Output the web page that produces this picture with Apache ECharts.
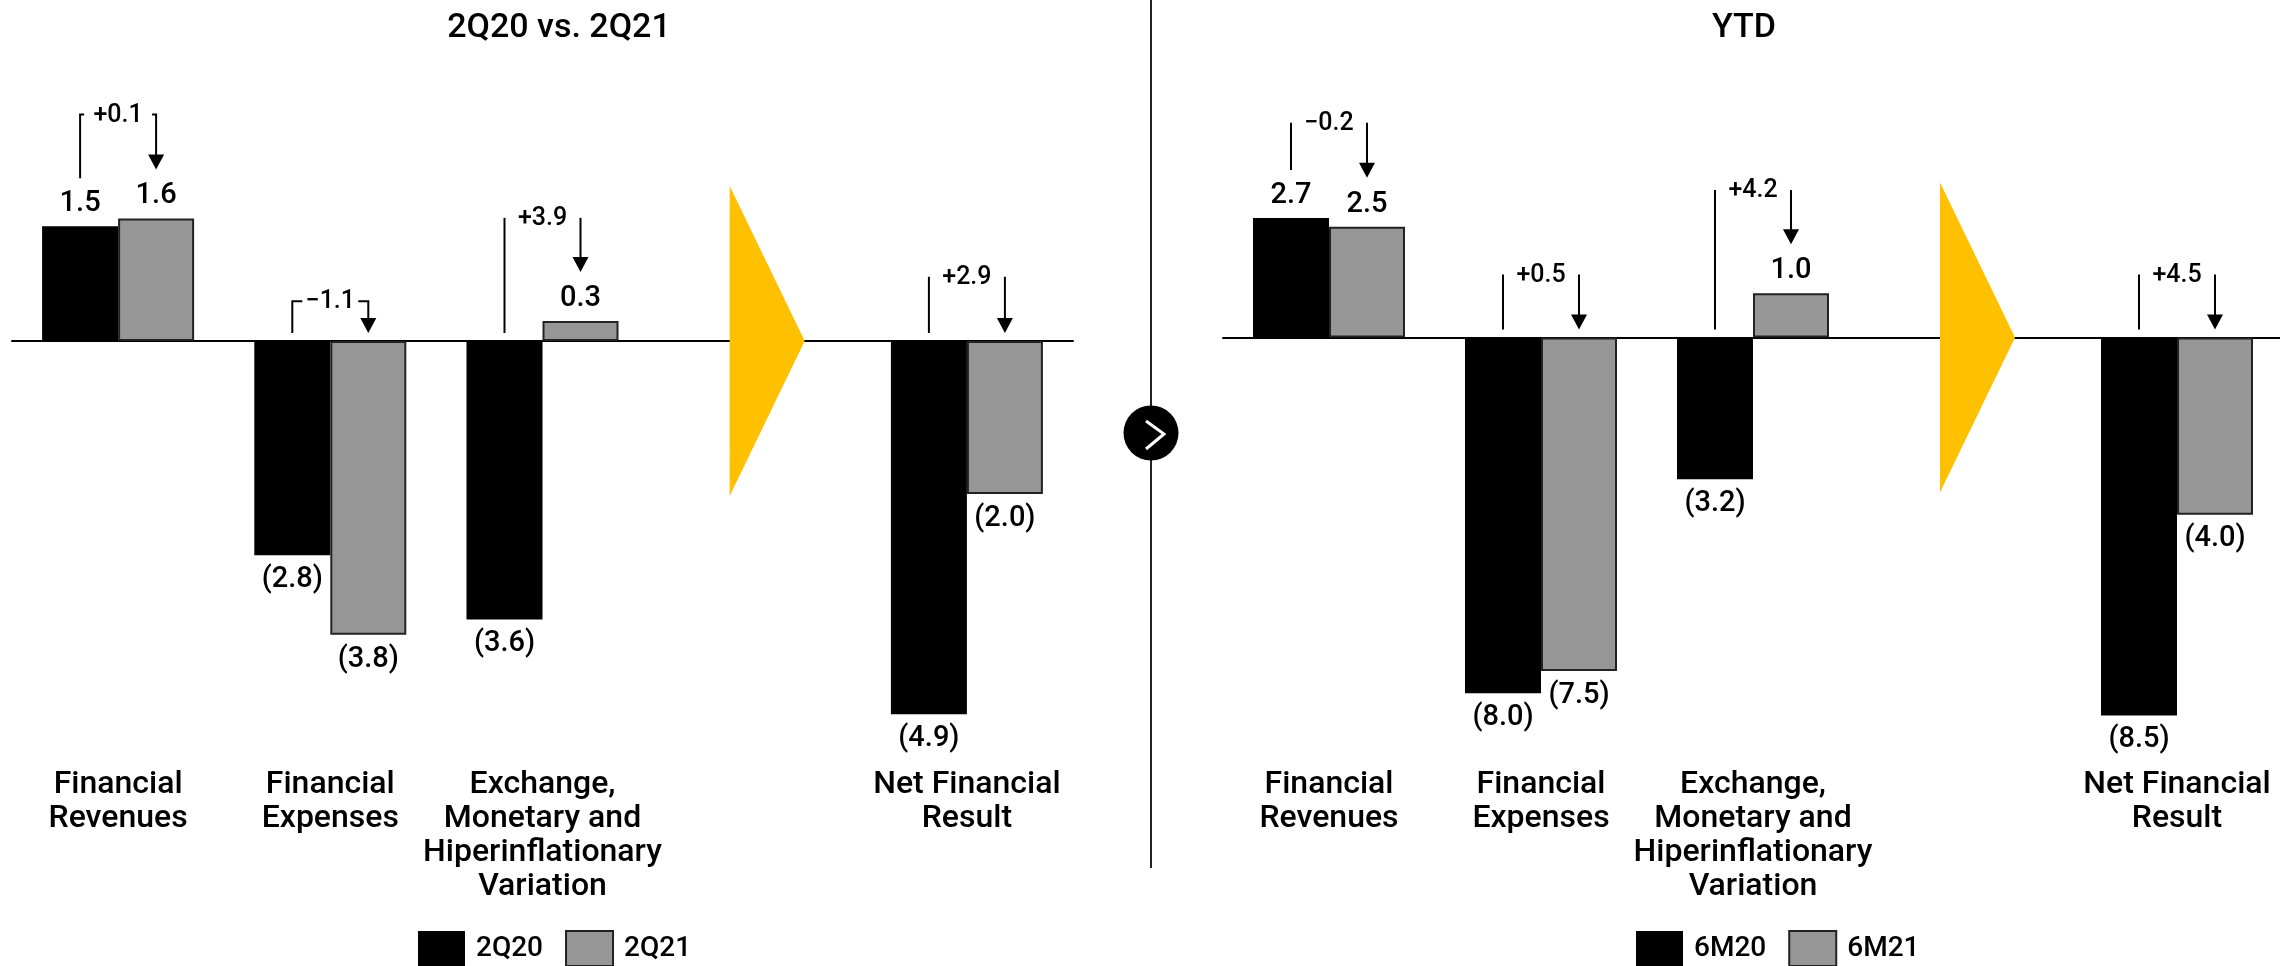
<!DOCTYPE html>
<html><head><meta charset="utf-8">
<style>html,body{margin:0;padding:0;background:#fff}#c{width:2280px;height:966px}</style>
<script src="https://cdn.jsdelivr.net/npm/echarts@6/dist/echarts.min.js"></script>
</head><body><div id="c"></div>
<script>
const categories = ['Financial\nRevenues','Financial\nExpenses','Exchange,\nMonetary and\nHiperinflationary\nVariation','','Net Financial\nResult'];
const q2_20 = [1.5,-2.8,-3.64,null,-4.88];
const q2_21 = [1.6,-3.84,0.26,null,-2.0];
const m6_20 = [2.7,-8.03,-3.2,null,-8.53];
const m6_21 = [2.5,-7.53,1.0,null,-4.0];
const deltaLeft = ['+0.1','−1.1','+3.9',null,'+2.9'];
const deltaRight = ['−0.2','+0.5','+4.2',null,'+4.5'];
// bracket top, in axis units above the zero line
const bracketTopLeft = [2.96,0.52,1.61,null,0.84];
const bracketTopRight = [4.85,1.42,3.33,null,1.42];
const stubLeft = [4,10,0,0,0];
const stubRight = [0,0,0,0,0];

const FONT = 'Roboto';
const fmt = p => { const v = p.value; return v == null ? '' : v < 0 ? '(' + (-v).toFixed(1) + ')' : v.toFixed(1); };
const GOLD = '#FFC000', GREY = '#969696';

function barSeries(name, data, color, idx, border) {
  return {
    type:'bar', name, data, xAxisIndex:idx*2, yAxisIndex:idx, barWidth:76, barGap:'0%', z:3,
    itemStyle:{color, borderColor: border, borderWidth: border==='#000'?0:2},
    label:{show:true, formatter:fmt, color:'#000', fontFamily:FONT, fontWeight:500, fontSize:29, distance:8,
      position:'top'}
  };
}
function negLabels(arr){ return arr.map(v => v==null ? null : v<0 ? {value:v,label:{position:'bottom',distance:10}} : v); }

function annotSeries(idx, v1, v2, tops, deltas, stubs) {
  const data = categories.map((c,i)=>[i]);
  return {
    type:'custom', xAxisIndex:idx*2, yAxisIndex:idx, z:5, silent:true, data, encode:{x:0},
    clip:false,
    renderItem(params, api){
      const i = api.value(0);
      const base = api.coord([i,0]);
      const cx = base[0], y0 = base[1];
      if (deltas[i] == null) {
        return {type:'polygon', z2:10, shape:{points:[[cx-25,y0-155],[cx+50,y0],[cx-25,y0+155]]}, style:{fill:GOLD}};
      }
      const xl = cx-38, xr = cx+38;
      const top = api.coord([i,tops[i]])[1];
      const lb = v1[i]>0 ? api.coord([i,v1[i]])[1]-48 : y0-8;
      const rb = v2[i]>0 ? api.coord([i,v2[i]])[1]-49 : y0-8;
      const ls = {stroke:'#000', lineWidth:2, fill:null};
      const s = stubs[i];
      return {type:'group', children:[
        {type:'polyline', shape:{points:[[xl+s,top],[xl,top],[xl,lb]]}, style:ls},
        {type:'polyline', shape:{points:[[xr-s,top],[xr,top],[xr,rb-14]]}, style:ls},
        {type:'polygon', shape:{points:[[xr-8,rb-15],[xr+8,rb-15],[xr,rb]]}, style:{fill:'#000'}},
        {type:'text', style:{x:cx, y:top+1, text:deltas[i], align:'center', verticalAlign:'middle', fontFamily:FONT, fontWeight:500, fontSize:25, fill:'#000'}}
      ]};
    }
  };
}

function xAxes(gi, margin){
  return [
    {type:'category', gridIndex:gi, data:categories, position:'bottom',
     axisLine:{show:false,onZero:false}, axisTick:{show:false},
     axisLabel:{interval:0, margin, fontFamily:FONT, fontWeight:500, fontSize:32, lineHeight:34, color:'#000', align:'center', verticalAlign:'top'}},
    {type:'category', gridIndex:gi, data:categories, position:'top',
     axisLine:{show:true,onZero:true,lineStyle:{color:'#000',width:2}}, axisTick:{show:false}, axisLabel:{show:false}}
  ];
}
function yAxis(gi,min,max){ return {type:'value', gridIndex:gi, min, max, show:false, splitLine:{show:false}}; }
const legendText = {fontFamily:FONT, fontWeight:500, fontSize:28, color:'#000', padding:[0,0,0,6]};
const titleText = {fontFamily:FONT, fontSize:34, fontWeight:500, color:'#000'};
const chart = echarts.init(document.getElementById('c'), null, {renderer:'canvas'});
chart.setOption({
  animation:false, backgroundColor:'#fff',
  title:[
    {text:'2Q20 vs. 2Q21', left:554, top:6, textAlign:'center', textStyle:titleText},
    {text:'YTD', left:1739, top:6, textAlign:'center', textStyle:titleText}
  ],
  legend:[
    {data:['2Q20','2Q21'], left:413, top:925, itemWidth:47, itemHeight:35, itemGap:22, icon:'rect', textStyle:legendText},
    {data:['6M20','6M21'], left:1631, top:925, itemWidth:47, itemHeight:35, itemGap:22, icon:'rect', textStyle:legendText}
  ],
  grid:[
    {left:12, width:1061, top:35, height:688.5, outerBoundsMode:'none'},
    {left:1223, width:1060, top:71.7, height:664.5, outerBoundsMode:'none'}
  ],
  xAxis:[...xAxes(0,44), ...xAxes(1,32)],
  yAxis:[yAxis(0,-5,4), yAxis(1,-9,6)],
  series:[
    barSeries('2Q20', negLabels(q2_20), '#000', 0, '#000'),
    barSeries('2Q21', negLabels(q2_21), GREY, 0, '#222'),
    annotSeries(0, q2_20, q2_21, bracketTopLeft, deltaLeft, stubLeft),
    barSeries('6M20', negLabels(m6_20), '#000', 1, '#000'),
    barSeries('6M21', negLabels(m6_21), GREY, 1, '#222'),
    annotSeries(1, m6_20, m6_21, bracketTopRight, deltaRight, stubRight)
  ],
  graphic:[
    {type:'line', shape:{x1:1151,y1:0,x2:1151,y2:868}, style:{stroke:'#222',lineWidth:2}, z:1},
    {type:'circle', shape:{cx:1151,cy:433,r:27.5}, style:{fill:'#000'}, z:2},
    {type:'polyline', shape:{points:[[1146,421],[1164,434],[1146,449]]}, style:{stroke:'#fff',lineWidth:3,fill:null}, z:3}
  ]
});
</script></body></html>
